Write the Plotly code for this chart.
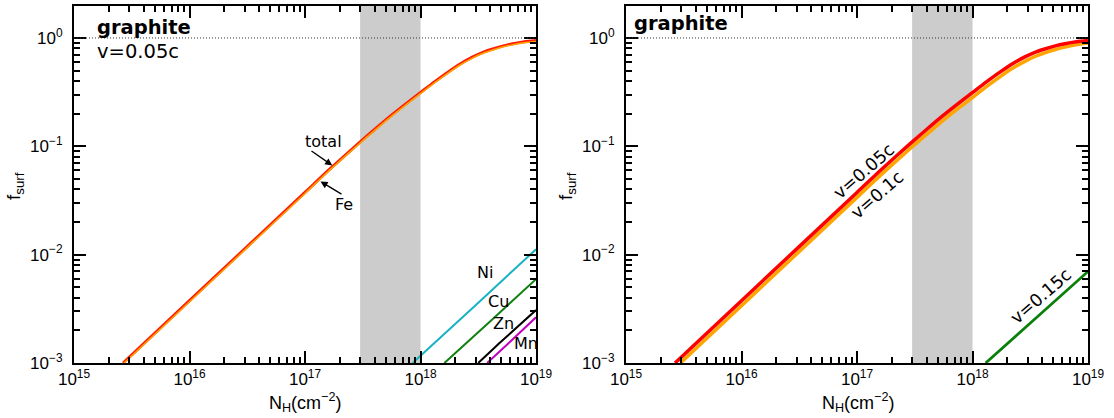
import plotly.graph_objects as go

W, H = 1114, 418

# ---- data ----
nh_main = [2.66e15, 1e16, 1e17, 1.61e17, 2.94e17, 3.98e17, 5.48e17, 7.41e17, 1.01e18,
           1.32e18, 1.74e18, 2.24e18, 2.81e18, 3.43e18, 4.22e18, 5.13e18, 6.31e18, 7.94e18, 1e19]
f_total = [0.001, 0.00376, 0.0375, 0.0605, 0.1076, 0.1422, 0.1897, 0.245, 0.316,
           0.393, 0.486, 0.581, 0.665, 0.733, 0.791, 0.841, 0.885, 0.923, 0.948]
f_fe = [0.00098, 0.00368, 0.0367, 0.0593, 0.1054, 0.1394, 0.1859, 0.240, 0.310,
        0.385, 0.476, 0.569, 0.652, 0.718, 0.775, 0.824, 0.867, 0.905, 0.929]

nh_v01 = [2.96e15, 1e16, 1e17, 1.61e17, 2.94e17, 3.98e17, 5.48e17, 7.41e17, 1.01e18,
          1.32e18, 1.74e18, 2.24e18, 2.81e18, 3.43e18, 4.22e18, 5.13e18, 6.31e18, 7.94e18, 1e19]
f_v01 = [0.001, 0.00338, 0.0338, 0.0545, 0.0969, 0.128, 0.171, 0.221, 0.285,
         0.355, 0.440, 0.527, 0.605, 0.671, 0.728, 0.778, 0.823, 0.868, 0.90]

nh_v015 = [1.3e18, 3e18, 1e19]
f_v015 = [0.001, 0.00222, 0.0070]

nh_ni = [8.55e17, 3e18, 1e19]
f_ni = [0.001, 0.00342, 0.0112]
nh_cu = [1.61e18, 4e18, 1e19]
f_cu = [0.001, 0.00242, 0.00593]
nh_zn = [3.16e18, 5e18, 1e19]
f_zn = [0.001, 0.00158, 0.00308]
nh_mn = [3.78e18, 6e18, 1e19]
f_mn = [0.001, 0.00158, 0.00264]

band = [3e17, 1e18]
x_tickvals = [1e15, 1e16, 1e17, 1e18, 1e19]
x_ticktext = ["10<sup>15</sup>", "10<sup>16</sup>", "10<sup>17</sup>", "10<sup>18</sup>", "10<sup>19</sup>"]
y_tickvals = [1e-3, 1e-2, 1e-1, 1]
y_ticktext = ["10<sup>−3</sup>", "10<sup>−2</sup>", "10<sup>−1</sup>", "10<sup>0</sup>"]
x_range = [15, 19]
y_range = [-3, 0.295]

# ---- figure ----
fig = go.Figure()

def line(x, y, color, width, xa, ya):
    fig.add_trace(go.Scatter(x=x, y=y, mode="lines",
                             line=dict(color=color, width=width, shape="spline", smoothing=0.6),
                             xaxis=xa, yaxis=ya, showlegend=False, hoverinfo="skip"))

# left panel
line(nh_ni, f_ni, "#17b2c4", 2, "x", "y")
line(nh_cu, f_cu, "#108010", 2, "x", "y")
line(nh_zn, f_zn, "black", 2, "x", "y")
line(nh_mn, f_mn, "#c000c0", 2, "x", "y")
line(nh_main, f_total, "#ff1a00", 3, "x", "y")
line(nh_main, f_fe, "#ffa500", 1.5, "x", "y")
# Mn label clipped by the axes
fig.add_trace(go.Scatter(x=[10**(15 + (526 - 74) / 115.5)], y=[10**(-3 + (363 - 345) / 108.3)],
                         mode="text", text=["Mn"], textposition="middle center",
                         textfont=dict(family="DejaVu Sans", size=16, color="black"),
                         cliponaxis=True, xaxis="x", yaxis="y", showlegend=False, hoverinfo="skip"))

# right panel
line(nh_v015, f_v015, "#0a800a", 2.8, "x2", "y2")
line(nh_v01, f_v01, "#ffa500", 3.5, "x2", "y2")
line(nh_main, f_total, "#ff0000", 3.5, "x2", "y2")

L = [74 / W, 536 / W]
R = [626 / W, 1088 / W]
YD = [1 - 363 / H, 1 - 6 / H]

common = dict(type="log", showline=True, linecolor="black", linewidth=2, mirror="allticks",
              ticks="inside", ticklen=12, tickwidth=1.5, tickcolor="black",
              tickmode="array", showgrid=False, zeroline=False, automargin=False,
              tickfont=dict(family="Liberation Sans", size=17, color="black"),
              minor=dict(ticks="inside", ticklen=6, tickwidth=1.5, tickcolor="black",
                         dtick="D1", showgrid=False))

def xaxis(dom, anchor):
    return dict(common, range=x_range, domain=dom, anchor=anchor,
                tickvals=x_tickvals, ticktext=x_ticktext, ticklabelstandoff=0)

def yaxis(anchor):
    return dict(common, range=y_range, domain=YD, anchor=anchor,
                tickvals=y_tickvals, ticktext=y_ticktext, ticklabelstandoff=6)

shapes = []
for xr, yr in (("x", "y"), ("x2", "y2")):
    shapes.append(dict(type="rect", xref=xr, yref=yr + " domain", x0=band[0], x1=band[1], y0=0, y1=1,
                       fillcolor="#cccccc", line=dict(width=0), layer="below"))
    shapes.append(dict(type="line", xref=xr + " domain", yref=yr, x0=0, x1=1, y0=1, y1=1,
                       line=dict(color="#333333", width=1, dash="1px,2px"), layer="above"))

def px(x):
    return x / W

def py(y):
    return 1 - y / H

ann = []
def text(x, y, s, size=16, family="DejaVu Sans", angle=0, xanchor="center"):
    ann.append(dict(x=px(x), y=py(y), xref="paper", yref="paper", text=s, showarrow=False,
                    xanchor=xanchor, yanchor="middle", textangle=angle,
                    font=dict(family=family, size=size, color="black")))

def arrow(x0, y0, x1, y1):
    ann.append(dict(x=px(x1), y=py(y1), xref="paper", yref="paper",
                    ax=x0 - x1, ay=y0 - y1, axref="pixel", ayref="pixel",
                    text="", showarrow=True, arrowhead=2, arrowsize=1.1, arrowwidth=1.3,
                    arrowcolor="black", standoff=0, startstandoff=0))

# left panel texts
text(95, 27, "<b>graphite</b>", size=19.5, xanchor="left")
text(95, 51, "v=0.05c", size=19.5, xanchor="left")
text(323, 141, "total")
arrow(310, 150, 332.3, 165.4)
text(344, 204, "Fe")
arrow(343, 195, 320.5, 181.4)
text(485, 272, "Ni")
text(498, 301, "Cu")
text(503, 323, "Zn")

# right panel texts
text(632, 23, "<b>graphite</b>", size=19.5, xanchor="left")
text(864, 171, "v=0.05c", size=17.5, angle=-41)
text(877, 195, "v=0.1c", size=17.5, angle=-41)
text(1041, 296, "v=0.15c", size=17.5, angle=-41)

# axis titles
for cx in (305, 858):
    text(cx, 402, "N<sub>H</sub>(cm<sup>−2</sup>)", size=18, family="Liberation Sans")
for cx in (15, 567):
    text(cx, 186, "f<sub>surf</sub>", size=19, family="Liberation Sans", angle=-90)

fig.update_layout(
    template="none",
    width=W, height=H, margin=dict(l=0, r=0, t=0, b=0, pad=0),
    paper_bgcolor="white", plot_bgcolor="white",
    xaxis=xaxis(L, "y"), yaxis=yaxis("x"),
    xaxis2=xaxis(R, "y2"), yaxis2=yaxis("x2"),
    shapes=shapes, annotations=ann, showlegend=False,
)

fig.write_html("out.html")
